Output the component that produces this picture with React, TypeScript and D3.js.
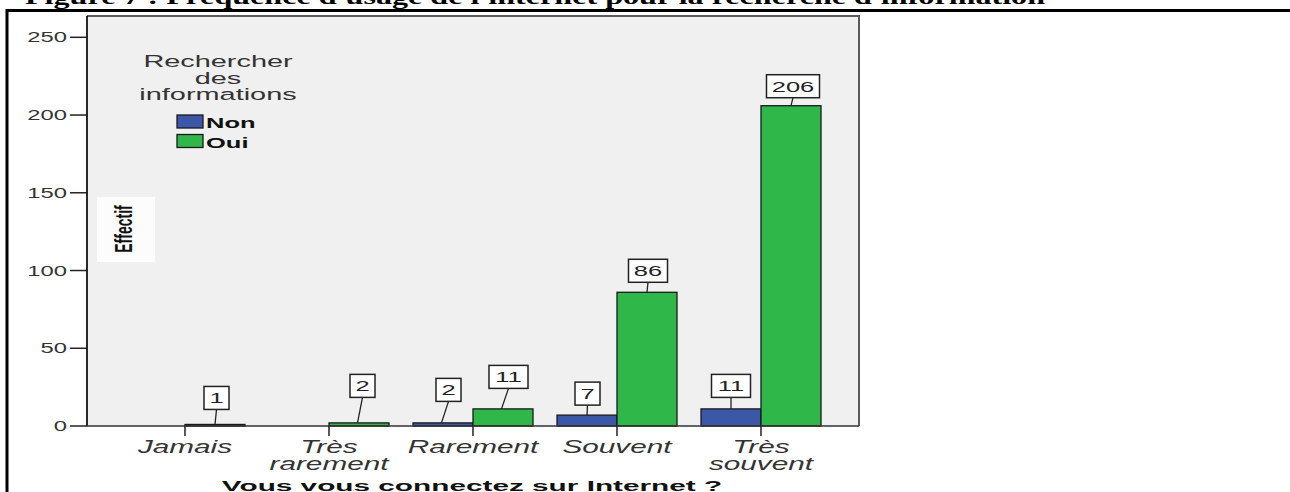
import React, { useEffect } from "react";
import * as d3 from "d3";

// ---------- data ----------
const categories = ["Jamais", "Très rarement", "Rarement", "Souvent", "Très souvent"];
const categoryLines = [["Jamais"], ["Très", "rarement"], ["Rarement"], ["Souvent"], ["Très", "souvent"]];
const seriesNames = ["Non", "Oui"];
const nonValues = [0, 0, 2, 7, 11];
const ouiValues = [1, 2, 11, 86, 206];
const yTicks = [0, 50, 100, 150, 200, 250];
const legendTitleLines = ["Rechercher", "des", "informations"];
const figureTitle = "Figure 7 : Fréquence d'usage de l'internet pour la recherche d'information";
const xAxisTitle = "Vous vous connectez sur Internet ?";
const yAxisTitle = "Effectif";

// ---------- layout / style ----------
const seriesColors = ["#3d57a8", "#2fb74a"];
const nonLabelDx = [0, 0, 5.5, 0.5, 0];
const nonLabelGap = [0, 0, 21.5, 10, 11.5];
const ouiLabelDx = [1.5, 3.5, 5.5, 1, 2];
const ouiLabelGap = [15, 25.5, 20.5, 10, 8];

const W = 1290;
const H = 492;
const SX = 1.7; // horizontal stretch of the original picture
const SANS = "'Liberation Sans', Arial, sans-serif";
const SERIF = "'Liberation Serif', 'Times New Roman', serif";

const PL = 87, PR = 859, PT = 16, PB = 426;

type STProps = {
  x: number; y: number; anchor?: string; size: number; weight?: string | number;
  italic?: boolean; fill?: string; family?: string; rotate?: number; sx?: number; children: React.ReactNode;
};
const ST = ({ x, y, anchor = "middle", size, weight = "normal", italic = false, fill = "#222", family = SANS, rotate, sx = SX, children }: STProps) => (
  <text
    transform={`translate(${x},${y}) scale(${sx},1)${rotate !== undefined ? ` rotate(${rotate})` : ""}`}
    textAnchor={anchor as any}
    fontSize={size}
    fontWeight={weight as any}
    fontStyle={italic ? "italic" : "normal"}
    fill={fill}
    fontFamily={family}
  >
    {children}
  </text>
);

export default function App() {
  useEffect(() => {
    document.body.style.margin = "0";
  }, []);

  const y = d3.scaleLinear().domain([0, 250]).range([PB, 37.3]);
  const x0 = d3.scaleBand<string>().domain(categories).range([PL, PR]).paddingInner(1 / 6).paddingOuter(0.2639);
  const x1 = d3.scaleBand<string>().domain(seriesNames).range([0, x0.bandwidth()]);

  const series = [
    { name: seriesNames[0], values: nonValues, dx: nonLabelDx, gap: nonLabelGap, color: seriesColors[0] },
    { name: seriesNames[1], values: ouiValues, dx: ouiLabelDx, gap: ouiLabelGap, color: seriesColors[1] },
  ];

  const labelSize = 15;
  const boxH = 23;

  return (
    <svg width={W} height={H} style={{ position: "absolute", left: 0, top: 0, background: "#fff" }}>
      {/* document title (clipped at top) */}
      <text x={25} y={4} fontFamily={SERIF} fontWeight="bold" fontSize={22} textLength={1020} lengthAdjust="spacingAndGlyphs" fill="#000">
        {figureTitle}
      </text>
      {/* document table borders */}
      <line x1={6} x2={W} y1={10.5} y2={10.5} stroke="#000" strokeWidth={3} />
      <line x1={7} x2={7} y1={9} y2={H} stroke="#000" strokeWidth={3} />

      {/* plot area */}
      <rect x={PL} y={PT} width={PR - PL} height={PB - PT} fill="#f0f0f0" />
      <path d={`M${PL},${PT}H${PR}V${PB}`} fill="none" stroke="#5a5a5a" strokeWidth={2} />

      {/* y axis */}
      {yTicks.map((t) => (
        <g key={t}>
          <line x1={70} x2={PL} y1={y(t)} y2={y(t)} stroke="#222" strokeWidth={1.5} />
          <ST x={67} y={y(t) + 5} anchor="end" size={14} fill="#333">{t}</ST>
        </g>
      ))}

      {/* Effectif box */}
      <rect x={97} y={197} width={58} height={65} fill="#fcfcfc" />
      <ST x={132} y={229} size={14} weight="bold" fill="#111" rotate={-90}>{yAxisTitle}</ST>

      {/* bars */}
      {series.map((s) =>
        s.values.map((v, i) =>
          v > 0 ? (
            <rect
              key={s.name + i}
              x={(x0(categories[i]) as number) + (x1(s.name) as number)}
              y={y(v)}
              width={x1.bandwidth()}
              height={y(0) - y(v)}
              fill={s.color}
              stroke="#1a1a1a"
              strokeWidth={1.3}
            />
          ) : null
        )
      )}

      {/* axes lines */}
      <line x1={PL} x2={PL} y1={PT} y2={PB} stroke="#111" strokeWidth={1.8} />
      <line x1={PL} x2={PR} y1={PB} y2={PB} stroke="#333" strokeWidth={1.5} />

      {/* x ticks and labels */}
      {categories.map((c, i) => {
        const cx = (x0(c) as number) + x0.bandwidth() / 2;
        return (
          <g key={c}>
            <line x1={cx} x2={cx} y1={PB} y2={PB + 10} stroke="#222" strokeWidth={1.5} />
            {categoryLines[i].map((ln, k) => (
              <ST key={k} x={cx} y={453 + k * 17} size={17.5} italic fill="#333">{ln}</ST>
            ))}
          </g>
        );
      })}

      {/* data labels */}
      {series.map((s) =>
        s.values.map((v, i) => {
          if (v <= 0) return null;
          const bx = (x0(categories[i]) as number) + (x1(s.name) as number) + x1.bandwidth() / 2;
          const top = y(v);
          const txt = String(v);
          const bw = txt.length * 14 + 11;
          const cx = bx + s.dx[i];
          const bottom = top - s.gap[i];
          return (
            <g key={"l" + s.name + i}>
              <line x1={bx - (s.dx[i] > 2 ? 1.5 : 0)} y1={top} x2={cx} y2={bottom} stroke="#222" strokeWidth={1.3} />
              <rect x={cx - bw / 2} y={bottom - boxH} width={bw} height={boxH} fill="#fff" stroke="#222" strokeWidth={1.5} />
              <ST x={cx} y={bottom - 6} size={labelSize} fill="#222">{txt}</ST>
            </g>
          );
        })
      )}

      {/* legend */}
      {legendTitleLines.map((ln, k) => (
        <ST key={ln} x={218} y={67 + k * 16.5} size={17} fill="#333">{ln}</ST>
      ))}
      {seriesNames.map((n, k) => (
        <g key={n}>
          <rect x={177} y={115 + k * 19.5} width={26} height={13} fill={seriesColors[k]} stroke="#1a1a1a" strokeWidth={1.3} />
          <ST x={206} y={128 + k * 19.5} anchor="start" size={15} weight="bold" fill="#111">{n}</ST>
        </g>
      ))}

      {/* x axis title */}
      <ST x={472} y={491} size={15.5} sx={1.92} weight="bold" fill="#111">{xAxisTitle}</ST>
    </svg>
  );
}
